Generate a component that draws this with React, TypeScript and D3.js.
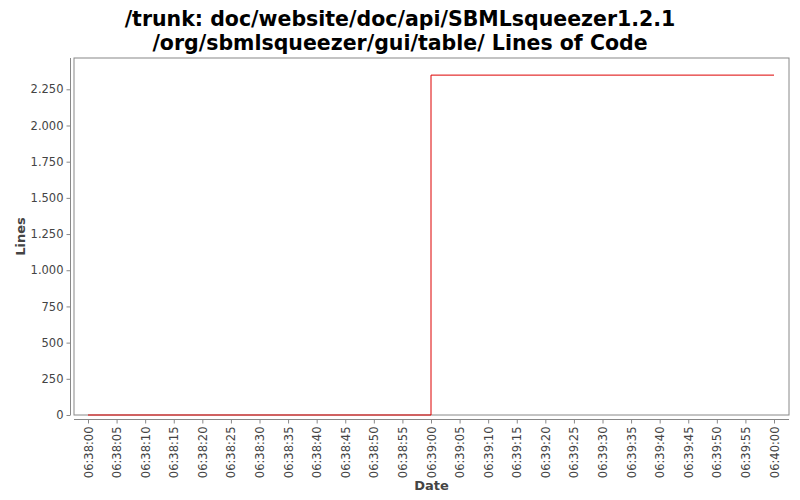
import React, {useEffect, useRef} from 'react';
import * as d3 from "d3"

const titleLines = ["/trunk: doc/website/doc/api/SBMLsqueezer1.2.1", "/org/sbmlsqueezer/gui/table/ Lines of Code"]
const stepTimes = ["06:38:00", "06:39:00", "06:40:00"]
const stepValues = [0, 2348, 2348]
const yTicks = [0, 250, 500, 750, 1000, 1250, 1500, 1750, 2000, 2250]

const parse = d3.timeParse("%H:%M:%S")

const App = () => {
    const svgRef = useRef<SVGSVGElement>(null)
    const width = 800, height = 500
    const plot = {left: 74, top: 58, right: 789, bottom: 415}

    useEffect(() => {
        const svgEl = d3.select(svgRef.current);
        svgEl.selectAll("*").remove();
        const font = "DejaVu Sans, sans-serif"

        const x = d3.scaleTime()
            .domain([parse("06:38:00")!, parse("06:40:00")!])
            .range([88, 774])
        const y = d3.scaleLinear()
            .domain([0, 2250])
            .range([plot.bottom, 89.3])

        // title
        svgEl.selectAll("text.title")
            .data(titleLines)
            .enter()
            .append("text")
            .attr("x", width / 2)
            .attr("y", (d, i) => 26 + i * 24)
            .attr("text-anchor", "middle")
            .attr("font-family", font)
            .attr("font-weight", "bold")
            .attr("font-size", 20.5)
            .attr("fill", "#000")
            .text(d => d)

        // plot box
        svgEl.append("rect")
            .attr("x", plot.left)
            .attr("y", plot.top)
            .attr("width", plot.right - plot.left)
            .attr("height", plot.bottom - plot.top)
            .attr("fill", "#fff")
            .attr("stroke", "#888")

        // y axis
        const yAxis = svgEl.append("g")
            .attr("transform", `translate(70.5, 0)`)
            .call(d3.axisLeft(y).tickValues(yTicks).tickSize(4).tickPadding(3)
                .tickFormat(d => d3.format(",")(d as number).replace(/,/g, ".")))
        yAxis.select(".domain").attr("stroke", "#888").attr("d", `M0,${plot.top}V${plot.bottom}`)
        yAxis.selectAll(".tick line").attr("stroke", "#888")
        yAxis.selectAll("text").attr("font-family", font).attr("font-size", 11.5).attr("fill", "#444")

        // x axis
        const xTicks = d3.timeSecond.every(5)!.range(parse("06:38:00")!, d3.timeSecond.offset(parse("06:40:00")!, 1))
        const xAxis = svgEl.append("g")
            .attr("transform", `translate(0, 419.5)`)
            .call(d3.axisBottom(x).tickValues(xTicks).tickSize(4).tickFormat(d3.timeFormat("%H:%M:%S") as any))
        xAxis.select(".domain").attr("stroke", "#888").attr("d", `M${plot.left},0H${plot.right}`)
        xAxis.selectAll(".tick line").attr("stroke", "#888")
        xAxis.selectAll("text")
            .attr("font-family", font).attr("font-size", 11.5).attr("fill", "#444")
            .attr("transform", "rotate(-90)")
            .attr("text-anchor", "end")
            .attr("x", -7)
            .attr("y", 0)
            .attr("dy", "0.35em")

        // axis labels
        svgEl.append("text")
            .attr("x", (plot.left + plot.right) / 2)
            .attr("y", 490)
            .attr("text-anchor", "middle")
            .attr("font-family", font).attr("font-weight", "bold").attr("font-size", 13).attr("fill", "#444")
            .text("Date")
        svgEl.append("text")
            .attr("transform", `translate(25, ${(plot.top + plot.bottom) / 2}) rotate(-90)`)
            .attr("text-anchor", "middle")
            .attr("font-family", font).attr("font-weight", "bold").attr("font-size", 13).attr("fill", "#444")
            .text("Lines")

        // step line
        const pts = stepTimes.map((t, i) => [x(parse(t)!), y(stepValues[i])] as [number, number])
        svgEl.append("path")
            .attr("d", d3.line().curve(d3.curveStepAfter)(pts))
            .attr("fill", "none")
            .attr("stroke", "#dd0000")
            .attr("stroke-width", 1)
    }, [])

    return <svg ref={svgRef} width={width} height={height} style={{position: "absolute", left: 0, top: 0}}/>
};

export default App;
